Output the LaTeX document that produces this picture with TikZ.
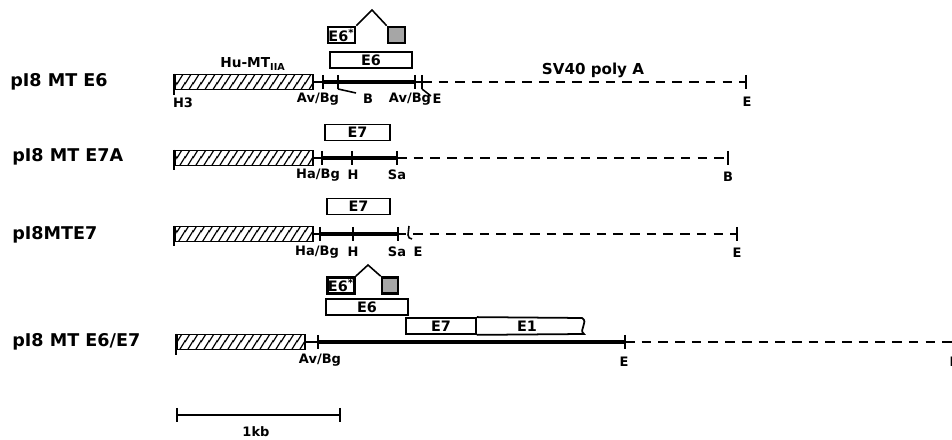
\documentclass[tikz,border=0pt]{standalone}
\usepackage{fontspec}
\setmainfont{DejaVu Sans}
\usepackage{tikz}
\usetikzlibrary{patterns, patterns.meta}
\tikzdeclarepattern{
  name=hatchwide,
  type=uncolored,
  bounding box={(0pt,0pt) and (4.6pt,7pt)},
  tile size={(4.6pt,7pt)},
  code={
    \draw[line width=0.75pt] (-4.6pt,0pt) -- (0pt,7pt)
      (0pt,0pt) -- (4.6pt,7pt) (4.6pt,0pt) -- (9.2pt,7pt);
  }
}
\newcommand{\namefont}{\fontsize{10}{12}\selectfont\bfseries}
\newcommand{\sitefont}{\fontsize{7.4}{9}\selectfont\bfseries}
\newcommand{\genefont}{\fontsize{8.2}{9}\selectfont\bfseries}

\begin{document}
\begin{tikzpicture}[
  x=0.2mm, y=-0.2mm,
  promoter/.style={
    draw, line width=1pt, pattern=hatchwide, minimum width=27.6mm,
    minimum height=3mm, inner sep=0pt
  },
  genebox/.style={
    draw, line width=1pt, fill=white, minimum height=3.2mm,
    inner sep=0pt, font=\genefont
  },
  exonbox/.style={
    draw, line width=1.5pt, minimum width=5.4mm, minimum height=3.2mm,
    inner sep=0pt, font=\genefont
  },
  rowname/.style={anchor=west, inner sep=0pt, font=\namefont},
  sitelabel/.style={inner sep=0pt, font=\sitefont},
  site/.style={line width=0.9pt},
  link/.style={line width=0.9pt},
  insert/.style={line width=2.4pt},
  polyA/.style={line width=0.9pt, dash pattern=on 5.5pt off 4pt},
]
\useasboundingbox (0,0) rectangle (952,440);

% --- pI8 MT E6 ---
\node[rowname] (name1) at (10,82) {pI8 MT E6};
\node[promoter] (hu1) at (244,82) {};
\node[sitelabel, font=\fontsize{7.8}{9}\selectfont\bfseries] (hulab) at (253,64)
  {Hu-MT\textsubscript{IIA}};
\draw[site] (hu1.north west) -- ++(0,21);
\draw[link] (hu1.east) -- (323,82);
\draw[insert] (323,82) -- (415,82);
\draw[link] (415,82) -- (422,82);
\draw[polyA] (422,82) -- (746,82);
\foreach \x in {323,338,415,422,746}
  \draw[site] (\x,75) -- (\x,89);
\draw[site] (338,89) -- (356,93);
\draw[site] (422,89) -- (431,96);
\node[sitelabel] (h3)   at (183,103) {H3};
\node[sitelabel] (av1)  at (318,99)  {Av/Bg};
\node[sitelabel] (b1)   at (368,99)  {B};
\node[sitelabel] (av1b) at (410,99)  {Av/Bg};
\node[sitelabel] (e1a)  at (437,99)  {E};
\node[sitelabel] (e1b)  at (747,102) {E};
\node[sitelabel, font=\fontsize{8.6}{10}\selectfont\bfseries] (sv40) at (593,70) {SV40 poly A};

\node[exonbox] (e6s1) at (341.5,35) {E6\textsuperscript{*}};
\node[exonbox, minimum width=3.4mm, fill=black!35] (dot1) at (396.5,35) {};
\coordinate (peak1) at (372,10);
\draw[link] (e6s1.north east) -- (peak1) -- (dot1.north west);
\node[genebox, minimum width=16.4mm] (e6box1) at (371,60) {E6};

% --- pI8 MT E7A ---
\node[rowname] (name2) at (12,157) {pI8 MT E7A};
\node[promoter] (hu2) at (244,158) {};
\draw[site] (hu2.north west) -- ++(0,20);
\draw[link] (hu2.east) -- (322,158);
\draw[insert] (322,158) -- (397,158);
\draw[polyA] (397,158) -- (728,158);
\foreach \x in {322,352,397,728}
  \draw[site] (\x,151) -- (\x,165);
\node[sitelabel] (ha2) at (318,175) {Ha/Bg};
\node[sitelabel] (h2)  at (353,175) {H};
\node[sitelabel] (sa2) at (397,175) {Sa};
\node[sitelabel] (b2)  at (728,177) {B};
\node[genebox, minimum width=13mm] (e7box2) at (357.5,132.5) {E7};

% --- pI8MTE7 ---
\node[rowname] (name3) at (12,235) {pI8MTE7};
\node[promoter] (hu3) at (244,234) {};
\draw[site] (hu3.north west) -- ++(0,20);
\draw[link] (hu3.east) -- (320,234);
\draw[insert] (320,234) -- (398,234);
\draw[link] (398,234) -- (406,234);
\draw[site] (409,226) -- (408,235) to[out=-90,in=180] (412,239);
\draw[polyA] (413,234) -- (737,234);
\foreach \x in {320,353,398,737}
  \draw[site] (\x,227) -- (\x,241);
\node[sitelabel] (ha3) at (317,252) {Ha/Bg};
\node[sitelabel] (h3b) at (353,252) {H};
\node[sitelabel] (sa3) at (397,252) {Sa};
\node[sitelabel] (e3a) at (418,252) {E};
\node[sitelabel] (e3b) at (737,253) {E};
\node[genebox, minimum width=12.6mm] (e7box3) at (358.5,206.5) {E7};

% --- pI8 MT E6/E7 ---
\node[rowname] (name4) at (12,342) {pI8 MT E6/E7};
\node[promoter, minimum width=25.6mm] (hu4) at (241,342) {};
\draw[site] (hu4.north west) -- ++(0,21);
\draw[link] (hu4.east) -- (318,342);
\draw[insert] (318,342) -- (625,342);
\draw[polyA] (625,342) -- (960,342);
\foreach \x in {318,625}
  \draw[site] (\x,335) -- (\x,349);
\node[sitelabel] (av4) at (320,360) {Av/Bg};
\node[sitelabel] (e4a) at (624,362) {E};
\node[sitelabel] (e4b) at (954,362) {E};

\node[exonbox] (e6s4) at (341,285.5) {E6\textsuperscript{*}};
\node[exonbox, minimum width=3.2mm, fill=black!35] (dot4) at (390,285.5) {};
\coordinate (peak4) at (368,265);
\draw[link] (e6s4.north east) -- (peak4) -- (dot4.north west);
\node[genebox, minimum width=16.4mm] (e6box4) at (367,307) {E6};
\node[genebox, minimum width=14mm] (e7seg) at (441,326) {E7};
\draw[line width=1pt] (e7seg.north east) -- (582,318)
  .. controls (589,322) and (578,330) .. (584,334) -- (e7seg.south east);
\node[font=\genefont, inner sep=0pt] (e1seg) at (527,326) {E1};

% --- scale bar ---
\coordinate (kb0) at (177,415);
\coordinate (kb1) at (340,415);
\draw[site] (kb0) -- (kb1);
\draw[site] (177,408) -- (177,422) (340,408) -- (340,422);
\node[sitelabel] (kb) at (256,432) {1kb};

\end{tikzpicture}
\end{document}
